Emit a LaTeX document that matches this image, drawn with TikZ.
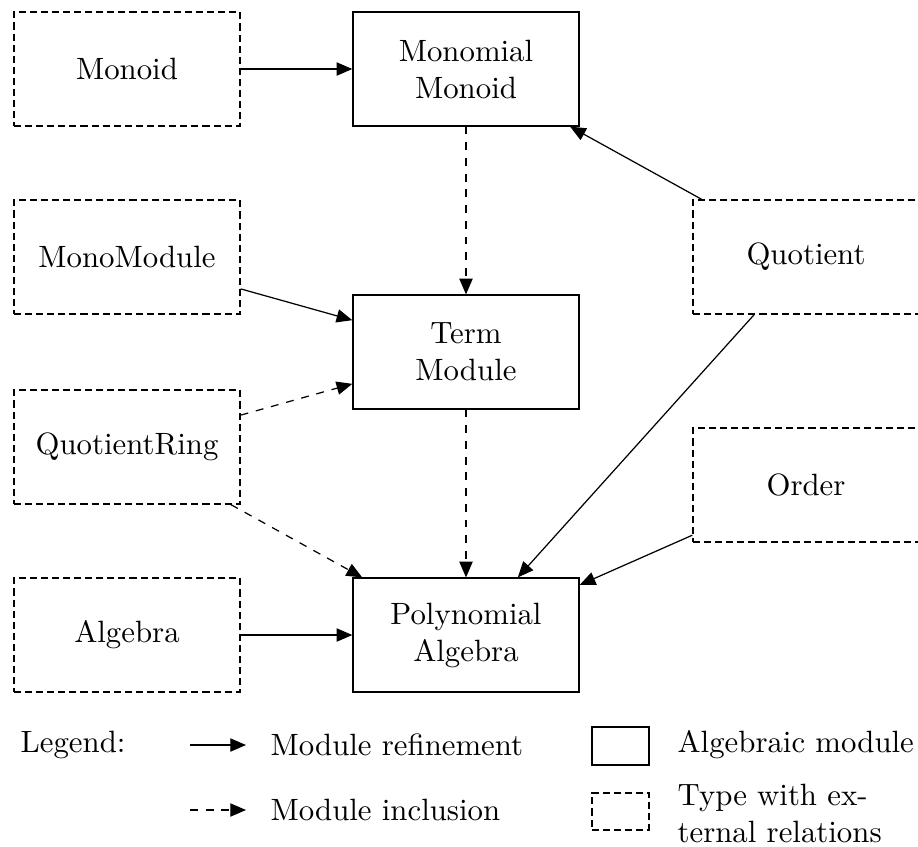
\documentclass[tikz,border=0pt]{standalone}
\usetikzlibrary{arrows.meta}
\begin{document}
\begin{tikzpicture}[
  x=0.3246pt, y=-0.3246pt,
  box/.style={draw, rectangle, minimum width=73.4pt, minimum height=37pt, align=center, inner sep=2pt},
  algmod/.style={box},
  exttype/.style={box, dash pattern=on 2.3pt off 1.3pt},
  refine/.style={-{Triangle[length=5.1pt,width=4.3pt]}},
  incl/.style={-{Triangle[length=5.1pt,width=4.3pt]}, dash pattern=on 2.55pt off 2.55pt},
  lbl/.style={anchor=west, inner sep=0pt, align=left}
]
\useasboundingbox (0,0) rectangle (918,846);

% modules and external types
\node[exttype] (monoid)   at (127,69)  {Monoid};
\node[algmod]  (monomial) at (466,69)  {Monomial\\Monoid};
\node[exttype] (monomod)  at (127,257) {MonoModule};
\node[algmod]  (term)     at (466,352) {Term\\Module};
\node[exttype] (qring)    at (127,447) {QuotientRing};
\node[exttype] (quotient) at (806,257) {Quotient};
\node[exttype] (order)    at (806,485) {Order};
\node[exttype] (algebra)  at (127,635) {Algebra};
\node[algmod]  (poly)     at (466,635) {Polynomial\\Algebra};

% relations
\draw[refine] (monoid) -- (monomial);
\draw[incl]   (monomial) -- (term);
\draw[refine] (monomod) -- (term);
\draw[incl]   (qring) -- (term);
\draw[incl]   (qring) -- (poly);
\draw[incl]   (term) -- (poly);
\draw[refine] (quotient) -- (monomial);
\draw[refine] (quotient) -- (poly);
\draw[refine] (order) -- (poly);
\draw[refine] (algebra) -- (poly);

% legend
\node[lbl] (legend) at (20,745) {Legend:};
\coordinate (r1) at (190,745);
\coordinate (r2) at (246,745);
\draw[refine] (r1) -- (r2);
\node[lbl] (refinetxt) at (270,745) {Module refinement};
\coordinate (i1) at (190,810);
\coordinate (i2) at (246,810);
\draw[incl] (i1) -- (i2);
\node[lbl] (incltxt) at (270,810) {Module inclusion};

\node[draw, minimum width=18.5pt, minimum height=12.3pt, inner sep=0pt] (keyalg) at (620.5,746) {};
\node[lbl] (algtxt) at (677,745) {Algebraic module};
\node[draw, dash pattern=on 2.3pt off 1.3pt, minimum width=18.5pt, minimum height=12pt, inner sep=0pt] (keyext) at (620.5,811.5) {};
\node[lbl] (exttxt) at (677,813) {Type with ex-\\ternal relations};
\end{tikzpicture}
\end{document}
